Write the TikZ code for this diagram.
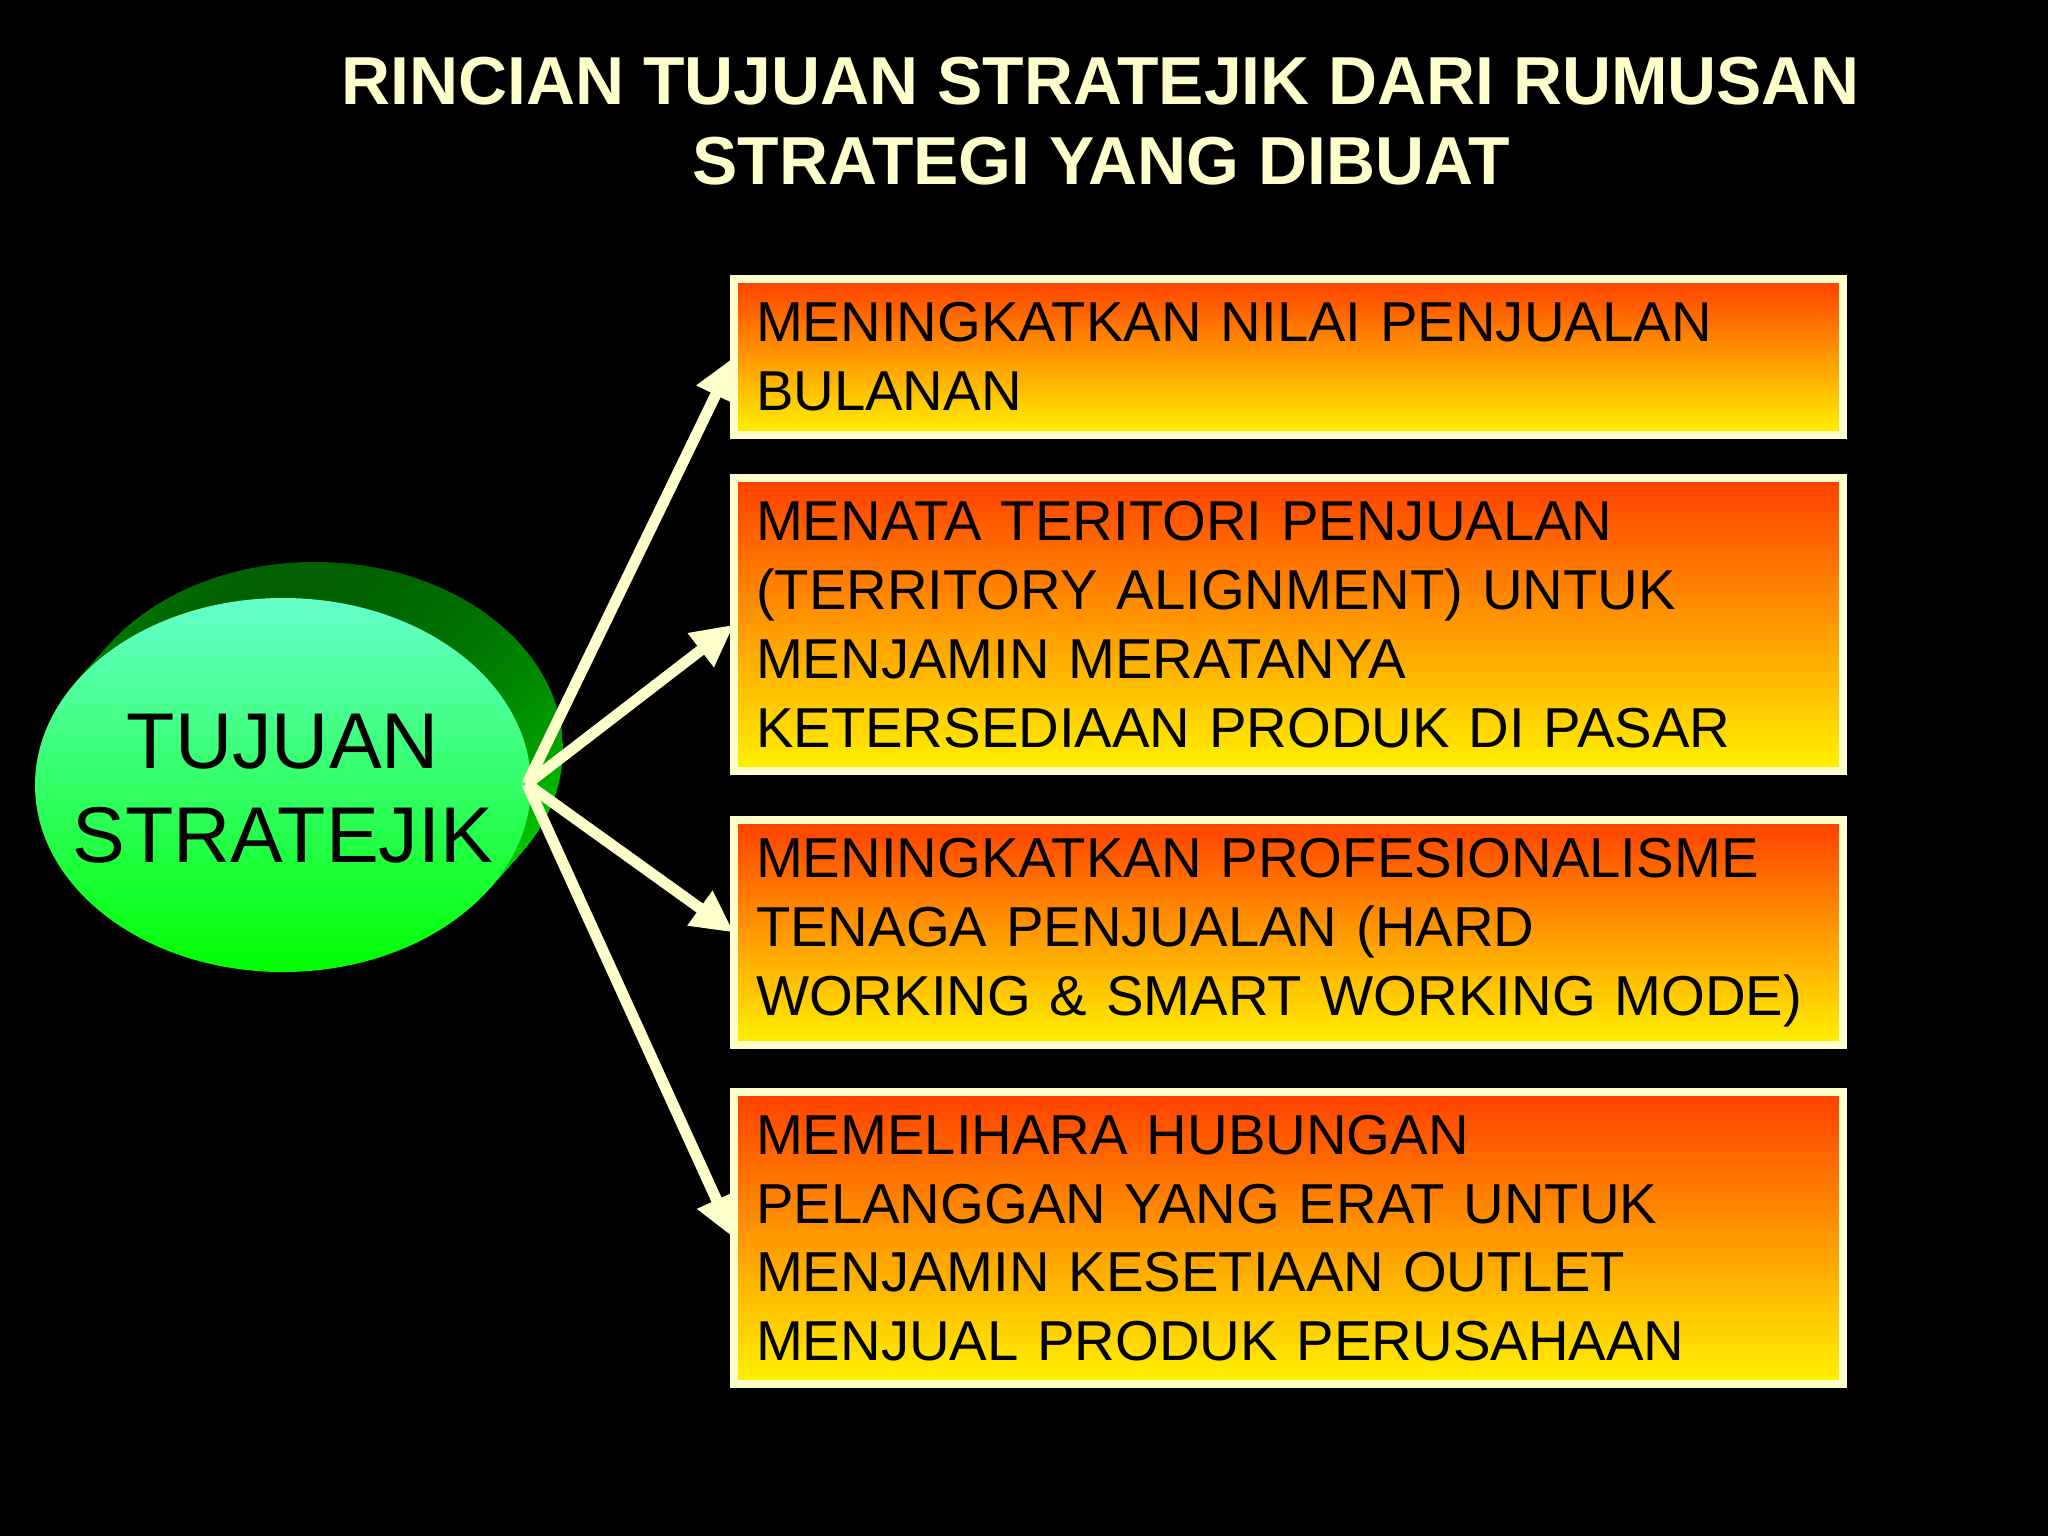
\documentclass[tikz,border=0pt]{standalone}
\usepackage{fontspec}
\setmainfont{Liberation Sans}
\usetikzlibrary{arrows.meta,shapes.geometric}
\definecolor{cream}{HTML}{FFFFCC}
\definecolor{boxtop}{HTML}{FF4000}
\definecolor{boxbot}{HTML}{FFF200}
\definecolor{faceTop}{HTML}{66FFCC}
\definecolor{faceBot}{HTML}{00FF00}
\definecolor{rimDark}{HTML}{006000}
\definecolor{rimLight}{HTML}{00F000}
\begin{document}
\begin{tikzpicture}[x=0.01cm,y=-0.01cm,
  goalbox/.style={draw=cream, line width=0.08cm, top color=boxtop, bottom color=boxbot,
    minimum width=11.08cm, text width=10.64cm, inner xsep=0.22cm, inner ysep=0pt,
    align=left, outer sep=0pt, font=\fontsize{16}{19.6}\selectfont, text=black, anchor=north west},
  arr/.style={draw=cream, line width=0.11cm, -{Triangle[length=0.42cm,width=0.4cm]}},
  rim/.style={top color=rimDark, bottom color=rimLight, draw=none},
]
\useasboundingbox (0,0) rectangle (2048,1536);
\fill[black] (0,0) rectangle (2048,1536);

% title
\node[font=\bfseries\fontsize{19.3}{22.7}\selectfont, text=cream, align=center] (title) at (1101,121)
  {RINCIAN TUJUAN STRATEJIK DARI RUMUSAN\\STRATEGI YANG DIBUAT};

% extruded ellipse rim
\foreach \i in {24,23,...,1} {
  \shade[rim] (283+1.33*\i,785-1.5*\i) ellipse [x radius=248, y radius=187];
}
% front face
\shade[top color=faceTop, bottom color=faceBot] (283,785) ellipse [x radius=248, y radius=187];
\node[inner sep=0pt, align=center, text=black, font=\fontsize{22.5}{26.7}\selectfont] (goal) at (283,789)
  {TUJUAN\\STRATEJIK};

% boxes
\node[goalbox, minimum height=1.56cm] (b1) at (734,279)
  {MENINGKATKAN NILAI PENJUALAN\\BULANAN};
\node[goalbox, minimum height=2.93cm] (b2) at (734,478)
  {MENATA TERITORI PENJUALAN\\(TERRITORY ALIGNMENT) UNTUK\\MENJAMIN MERATANYA\\KETERSEDIAAN PRODUK DI PASAR};
\node[goalbox, minimum height=2.25cm] (b3) at (734,820)
  {MENINGKATKAN PROFESIONALISME\\TENAGA PENJUALAN (HARD\\WORKING \& SMART WORKING MODE)};
\node[goalbox, minimum height=2.92cm] (b4) at (734,1092)
  {MEMELIHARA HUBUNGAN\\PELANGGAN YANG ERAT UNTUK\\MENJAMIN KESETIAAN OUTLET\\MENJUAL PRODUK PERUSAHAAN};

% arrows
\coordinate (src) at (527,784);
\draw[arr] (src) -- (b1.west);
\draw[arr] (src) -- (b2.west);
\draw[arr] (src) -- (b3.west);
\draw[arr] (src) -- (b4.west);
\end{tikzpicture}
\end{document}
